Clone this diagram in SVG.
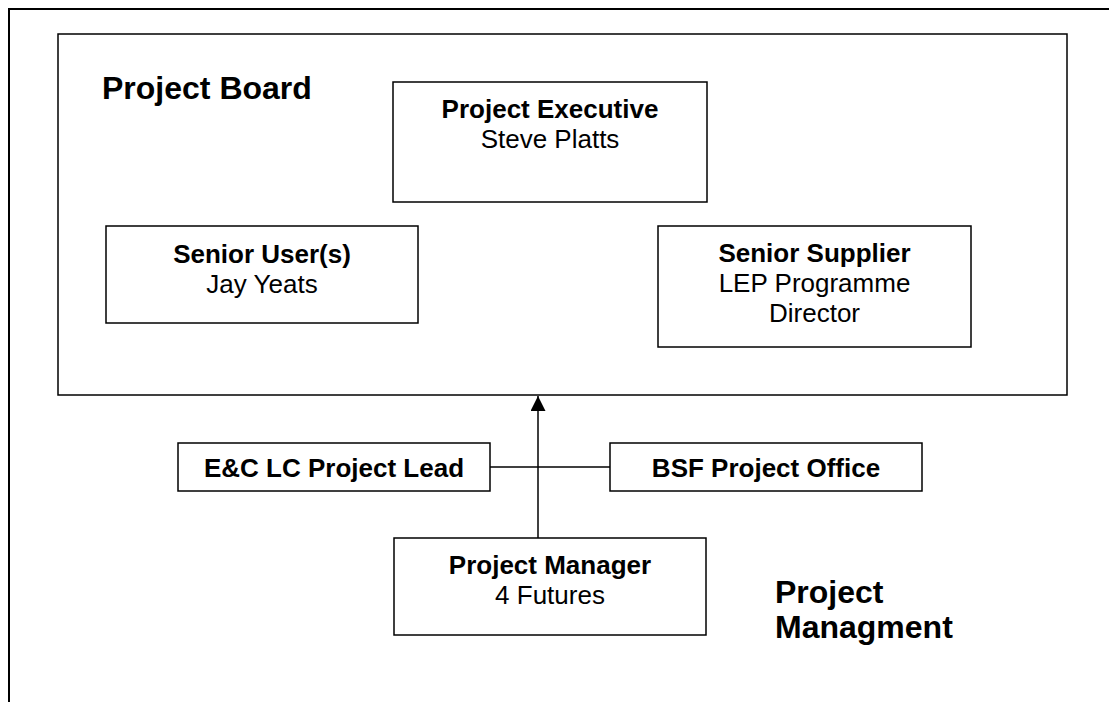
<svg xmlns="http://www.w3.org/2000/svg" width="1109" height="702" viewBox="0 0 1109 702">
<style>
.box{fill:#fff;stroke:#000;stroke-width:1.5}
.frame{fill:none;stroke:#000;stroke-width:2}
.b{font-family:"Liberation Sans",Arial,sans-serif;font-weight:bold;font-size:26px;text-anchor:middle;fill:#000}
.r{font-family:"Liberation Sans",Arial,sans-serif;font-size:26px;text-anchor:middle;fill:#000}
.title{font-family:"Liberation Sans",Arial,sans-serif;font-weight:bold;font-size:32px;fill:#000}
.conn{fill:none;stroke:#000;stroke-width:1.5}
</style>
<defs>
<marker id="arr" markerWidth="16" markerHeight="16" refX="15" refY="7.5" orient="auto" markerUnits="userSpaceOnUse">
<path d="M0,0 L15,7.5 L0,15 Z" fill="#000"/>
</marker>
</defs>
<rect width="1109" height="702" fill="#fff"/>
<rect class="frame" x="9" y="9" width="1200" height="800"/>
<g id="project-board">
<rect class="box" x="58" y="34" width="1009" height="361"/>
<text class="title" x="102" y="99">Project Board</text>
</g>
<g id="project-executive">
<rect class="box" x="393" y="82" width="314" height="120"/>
<text class="b" x="550" y="118">Project Executive</text>
<text class="r" x="550" y="148">Steve Platts</text>
</g>
<g id="senior-user">
<rect class="box" x="106" y="226" width="312" height="97"/>
<text class="b" x="262" y="263">Senior User(s)</text>
<text class="r" x="262" y="293">Jay Yeats</text>
</g>
<g id="senior-supplier">
<rect class="box" x="658" y="226" width="313" height="121"/>
<text class="b" x="814.5" y="262">Senior Supplier</text>
<text class="r" x="814.5" y="292">LEP Programme</text>
<text class="r" x="814.5" y="322">Director</text>
</g>
<g id="connectors">
<line class="conn" x1="538" y1="538" x2="538" y2="396" marker-end="url(#arr)"/>
<line class="conn" x1="490" y1="467" x2="610" y2="467"/>
</g>
<g id="ec-lead">
<rect class="box" x="178" y="443" width="312" height="48"/>
<text class="b" x="334" y="477">E&amp;C LC Project Lead</text>
</g>
<g id="bsf-office">
<rect class="box" x="610" y="443" width="312" height="48"/>
<text class="b" x="766" y="477">BSF Project Office</text>
</g>
<g id="project-manager">
<rect class="box" x="394" y="538" width="312" height="97"/>
<text class="b" x="550" y="574">Project Manager</text>
<text class="r" x="550" y="604">4 Futures</text>
</g>
<g id="project-management-label">
<text class="title" x="775" y="603">Project</text>
<text class="title" x="775" y="638">Managment</text>
</g>
</svg>
